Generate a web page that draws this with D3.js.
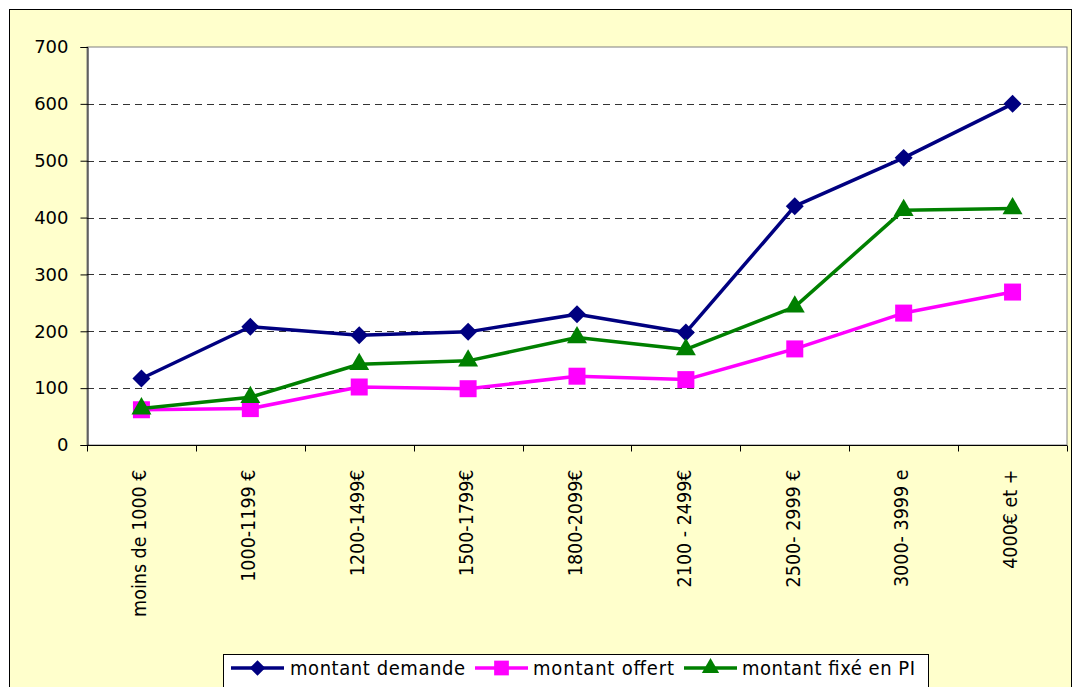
<!DOCTYPE html>
<html>
<head>
<meta charset="utf-8">
<script src="https://cdn.jsdelivr.net/npm/d3@7"></script>
<style>
  body { margin: 0; background: #fff; }
  svg { display: block; }
</style>
</head>
<body>
<svg id="chart"></svg>
<script>
// categories (tranches de revenu)
const categories = ["moins de 1000 €", "1000-1199 €", "1200-1499€", "1500-1799€", "1800-2099€",
  "2100 - 2499€", "2500- 2999 €", "3000- 3999 e", "4000€ et +"];

const montantDemande = [117, 208, 193, 199, 230, 198, 420, 505, 600];
const montantOffert = [62, 64, 102, 99, 121, 115, 169, 232, 269];
const montantFixe = [64, 84, 142, 148, 189, 168, 243, 413, 416];

const yTicks = [0, 100, 200, 300, 400, 500, 600, 700];

const seriesNames = ["montant demande", "montant offert", "montant fixé en PI"];

const width = 1074, height = 687;
const plot = { left: 87, right: 1067, top: 47, bottom: 445 };

const svg = d3.select("#chart").attr("width", width).attr("height", height);

// outer chart area
svg.append("rect")
  .attr("x", 9.5).attr("y", 9.5)
  .attr("width", 1062).attr("height", 700)
  .attr("fill", "#FFFFCC")
  .attr("stroke", "#000").attr("stroke-width", 1);

// plot area
svg.append("rect")
  .attr("x", plot.left).attr("y", plot.top)
  .attr("width", plot.right - plot.left).attr("height", plot.bottom - plot.top)
  .attr("fill", "#fff")
  .attr("stroke", "#808080").attr("stroke-width", 1);

// Scales
const xScale = d3.scaleBand().domain(categories).range([plot.left, plot.right]);
const yScale = d3.scaleLinear().domain([0, 700]).range([plot.bottom, plot.top]);

// grid lines
svg.append("g")
  .selectAll("line")
  .data(yTicks.filter(d => d > 0 && d < 700))
  .join("line")
  .attr("x1", plot.left).attr("x2", plot.right)
  .attr("y1", d => Math.round(yScale(d)) + 0.5).attr("y2", d => Math.round(yScale(d)) + 0.5)
  .attr("stroke", "#333")
  .attr("stroke-width", 1)
  .attr("stroke-dasharray", "7 5");

// Y axis
const yAxis = d3.axisLeft(yScale).tickValues(yTicks).tickSize(7).tickPadding(12);
svg.append("g")
  .attr("transform", `translate(${plot.left + 0.5},0)`)
  .call(yAxis)
  .call(g => g.select(".domain").attr("stroke", "#000"))
  .call(g => g.selectAll(".tick line").attr("stroke", "#000"))
  .call(g => g.selectAll("text")
    .attr("font-family", "'DejaVu Sans', Verdana, sans-serif")
    .attr("font-size", 18)
    .attr("fill", "#000"));

// X axis (ticks between categories)
const xAxisG = svg.append("g").attr("transform", `translate(0,${plot.bottom + 0.5})`);
xAxisG.append("line")
  .attr("x1", plot.left).attr("x2", plot.right)
  .attr("stroke", "#000");
xAxisG.selectAll(".xtick")
  .data(d3.range(categories.length + 1))
  .join("line")
  .attr("x1", i => Math.round(plot.left + i * xScale.step()) + 0.5)
  .attr("x2", i => Math.round(plot.left + i * xScale.step()) + 0.5)
  .attr("y1", 0).attr("y2", 6)
  .attr("stroke", "#000");

xAxisG.selectAll(".xlabel")
  .data(categories)
  .join("text")
  .attr("transform", d => `translate(${xScale(d) + xScale.bandwidth() / 2 - 2},${469 - plot.bottom}) rotate(-90)`)
  .attr("text-anchor", "end")
  .attr("dy", "0.35em")
  .attr("font-family", "'Liberation Sans Narrow', 'DejaVu Sans Condensed', sans-serif")
  .attr("font-size", 19.5)
  .attr("fill", "#000")
  .text(d => d);

// series
const series = [
  { name: seriesNames[0], values: montantDemande, color: "#000080", symbol: "diamond" },
  { name: seriesNames[1], values: montantOffert, color: "#FF00FF", symbol: "square" },
  { name: seriesNames[2], values: montantFixe, color: "#008000", symbol: "triangle" }
];

const symbolPath = (type, k = 1) => {
  if (type === "diamond") return d3.symbol().type(d3.symbolDiamond2).size(206 * k)();
  if (type === "square") return d3.symbol().type(d3.symbolSquare2).size(368 * k)();
  return d3.symbol().type(d3.symbolTriangle2).size(286 * k)();
};

const lineGenerator = d3.line()
  .x((d, i) => xScale(categories[i]) + xScale.bandwidth() / 2)
  .y(d => yScale(d));

series.forEach(s => {
  svg.append("path")
    .datum(s.values)
    .attr("d", lineGenerator)
    .attr("fill", "none")
    .attr("stroke", s.color)
    .attr("stroke-width", 3.5)
    .attr("stroke-linejoin", "round");

  svg.append("g")
    .selectAll("path")
    .data(s.values)
    .join("path")
    .attr("transform", (d, i) => `translate(${xScale(categories[i]) + xScale.bandwidth() / 2},${yScale(d)})`)
    .attr("d", symbolPath(s.symbol))
    .attr("fill", s.color);
});

// Legend
const legend = svg.append("g");
legend.append("rect")
  .attr("x", 223.5).attr("y", 654.5)
  .attr("width", 705).attr("height", 50)
  .attr("fill", "#fff")
  .attr("stroke", "#000");

const legendItems = [
  { x: 231, textX: 290, textW: 175 },
  { x: 475, textX: 533, textW: 141 },
  { x: 684, textX: 742, textW: 173 }
];

series.forEach((s, i) => {
  const item = legendItems[i];
  const g = legend.append("g").attr("transform", `translate(0,668)`);
  g.append("line")
    .attr("x1", item.x).attr("x2", item.x + 53)
    .attr("stroke", s.color).attr("stroke-width", 3.5);
  g.append("path")
    .attr("transform", `translate(${item.x + 26.5},0)`)
    .attr("d", symbolPath(s.symbol, 0.75))
    .attr("fill", s.color);
  g.append("text")
    .attr("x", item.textX)
    .attr("dy", "0.35em")
    .attr("font-family", "'Liberation Sans Narrow', 'DejaVu Sans Condensed', sans-serif")
    .attr("font-size", 20)
    .attr("textLength", item.textW)
    .attr("lengthAdjust", "spacing")
    .attr("fill", "#000")
    .text(s.name);
});
</script>
</body>
</html>
